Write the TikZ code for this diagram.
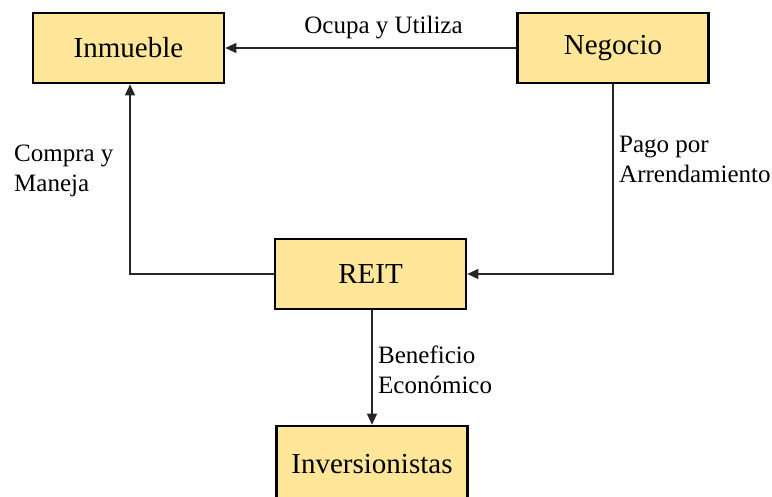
\documentclass[tikz,border=0pt]{standalone}
\usepackage{fontspec}
\setmainfont{Liberation Serif}
\usetikzlibrary{arrows.meta}
\definecolor{boxyellow}{HTML}{FFE699}

\begin{document}
\begin{tikzpicture}[x=1pt, y=-1pt,
        entity/.style={draw=black, line width=2.6pt, fill=boxyellow,
            minimum width=191pt, minimum height=70pt, inner sep=0pt,
            font=\fontsize{29}{34}\selectfont},
        flowlabel/.style={font=\fontsize{25}{29.5}\selectfont, align=left, inner sep=0pt},
        link/.style={draw=black!85, line width=1.2pt, -{Triangle[length=11pt,width=10pt]}}]
        \useasboundingbox (0,0) rectangle (772,496);

        % Defining the entities
        \node[entity] (inmueble) at (128.5,48) {Inmueble};
        \node[entity] (negocio) at (613,48) {Negocio};
        \node[entity] (reit) at (370.5,274) {REIT};
        \node[entity, minimum height=76pt] (inversionistas) at (372,464) {Inversionistas};

        % Corners of the links
        \coordinate (reitcorner) at (130,274);
        \coordinate (negociocorner) at (613,274);

        % Defining the links between the entities
        \draw[link] (negocio.west) -- (inmueble.east);
        \draw[link] (reit.west) -- (reitcorner) -- (inmueble.south -| reitcorner);
        \draw[link] (negocio.south) -- (negociocorner) -- (reit.east);
        \draw[link] (reit.south -| inversionistas.north) -- (inversionistas.north);

        % Labels
        \node[flowlabel, anchor=base] (ocupa) at (383.5,33) {Ocupa y Utiliza};
        \node[flowlabel, anchor=north west] (compra) at (14,145) {Compra y\\Maneja};
        \node[flowlabel, anchor=north west] (pago) at (619,136) {Pago por\\Arrendamiento};
        \node[flowlabel, anchor=north west] (beneficio) at (378,346) {Beneficio\\Económico};

    \end{tikzpicture}
\end{document}
